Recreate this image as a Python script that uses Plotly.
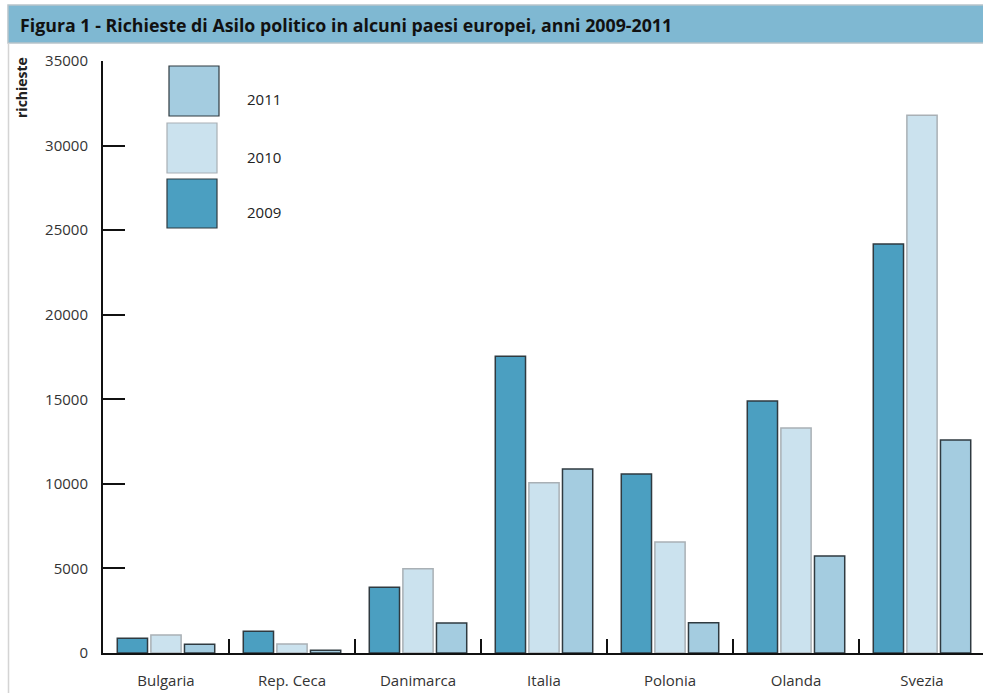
import plotly.graph_objects as go

# Asylum requests per country, 2009-2011
countries = ["Bulgaria", "Rep. Ceca", "Danimarca", "Italia", "Polonia", "Olanda", "Svezia"]
req_2009 = [870, 1280, 3885, 17540, 10580, 14900, 24180]
req_2010 = [1060, 530, 4985, 10070, 6560, 13300, 31790]
req_2011 = [515, 160, 1775, 10880, 1790, 5735, 12590]

y_ticks = [0, 5000, 10000, 15000, 20000, 25000, 30000, 35000]

W, H = 983, 693
L, R, T, B = 103, 0, 61, 40
PW, PH = W - L - R, H - T - B


def px(x):
    return (x - L) / PW


def py(y):
    return (H - B - y) / PH


series = [
    ("2009", req_2009, "#4B9FC1", "#2F3A40"),
    ("2010", req_2010, "#CBE2EE", "#A9B0B5"),
    ("2011", req_2011, "#A4CCE0", "#2F3A40"),
]

fig = go.Figure()
for name, vals, fill, edge in series:
    fig.add_trace(go.Bar(
        x=countries, y=vals, name=name,
        marker=dict(color=fill, line=dict(color=edge, width=1.5)),
        showlegend=False,
    ))

shapes = []
annotations = []

# Title band
shapes.append(dict(type="rect", xref="paper", yref="paper",
                   x0=px(8), x1=px(W + 2), y0=py(43), y1=py(5),
                   fillcolor="#7FB8D2", line=dict(color="#B8C4CA", width=1.5), layer="below"))
# Left frame line
shapes.append(dict(type="line", xref="paper", yref="paper",
                   x0=px(8.5), x1=px(8.5), y0=py(43), y1=py(H + 2),
                   line=dict(color="#D4D4D4", width=1.5)))
annotations.append(dict(text="<b>Figura 1 - Richieste di Asilo politico in alcuni paesi europei, anni 2009-2011</b>",
                        xref="paper", yref="paper", x=px(18), y=py(25),
                        xanchor="left", yanchor="middle", showarrow=False,
                        font=dict(family="Open Sans", size=17.8, color="#111111")))

# Y axis title
annotations.append(dict(text="<b>richieste</b>", xref="paper", yref="paper",
                        x=px(21), y=py(88), textangle=-90,
                        xanchor="center", yanchor="middle", showarrow=False,
                        font=dict(family="Open Sans", size=14, color="#222222")))

# Legend boxes with labels
legend_rows = [("2011", "#A4CCE0", "#2F3A40", 66, 116, 169, 219, 99),
               ("2010", "#CBE2EE", "#A9B0B5", 123, 173, 167, 217, 157),
               ("2009", "#4B9FC1", "#2F3A40", 179, 228, 167, 217, 212)]
for label, fill, edge, y0, y1, x0, x1, ty in legend_rows:
    shapes.append(dict(type="rect", xref="paper", yref="paper",
                       x0=px(x0), x1=px(x1), y0=py(y1), y1=py(y0),
                       fillcolor=fill, line=dict(color=edge, width=1.2)))
    annotations.append(dict(text=label, xref="paper", yref="paper",
                            x=px(245), y=py(ty), xanchor="left", yanchor="middle",
                            showarrow=False,
                            font=dict(family="Open Sans", size=15, color="#222222")))

fig.update_layout(
    width=W, height=H,
    margin=dict(l=L, r=R, t=T, b=B, pad=0),
    paper_bgcolor="white", plot_bgcolor="white",
    barmode="group", bargap=0.2, bargroupgap=0.1,
    shapes=shapes, annotations=annotations,
    font=dict(family="Open Sans", size=15, color="#333333"),
)
fig.update_xaxes(
    range=[-0.5, -0.5 + PW / 126], showgrid=False, zeroline=False,
    showline=True, linecolor="#111111", linewidth=2,
    ticks="inside", tickson="boundaries", ticklen=14, tickwidth=2, tickcolor="#111111",
    ticklabelstandoff=13, tickfont=dict(family="Open Sans", size=15, color="#333333"),
)
fig.update_yaxes(
    range=[0, 35000], tickvals=y_ticks, ticktext=[str(v) for v in y_ticks],
    showgrid=False, zeroline=False,
    showline=True, linecolor="#111111", linewidth=2,
    ticks="inside", ticklen=22, tickwidth=2, tickcolor="#111111",
    ticklabelstandoff=10, tickfont=dict(family="Open Sans", size=15, color="#333333"),
)

fig.write_html("out.html")
